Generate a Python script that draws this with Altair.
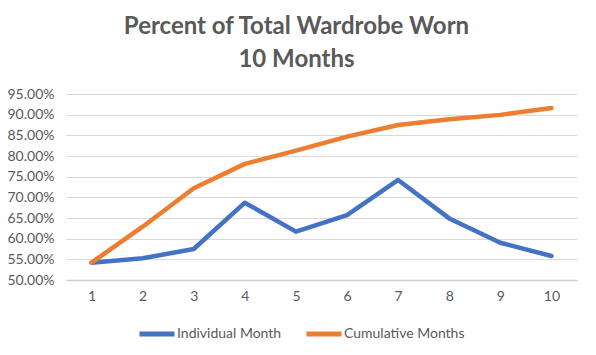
import altair as alt
import pandas as pd

months = [1, 2, 3, 4, 5, 6, 7, 8, 9, 10]
individual = [0.542, 0.5525, 0.575, 0.687, 0.617, 0.657, 0.742, 0.649, 0.590, 0.558]
cumulative = [0.542, 0.629, 0.722, 0.781, 0.813, 0.847, 0.875, 0.889, 0.8995, 0.916]
series_names = ["Individual Month", "Cumulative Months"]
colors = ["#4472C4", "#ED7D31"]
y_ticks = [0.50, 0.55, 0.60, 0.65, 0.70, 0.75, 0.80, 0.85, 0.90, 0.95]

rows = []
for m, v in zip(months, individual):
    rows.append({"Month": m, "Value": v, "Series": series_names[0]})
for m, v in zip(months, cumulative):
    rows.append({"Month": m, "Value": v, "Series": series_names[1]})
df = pd.DataFrame(rows)

FONT = "Lato"
GRAY = "#595959"

chart = alt.Chart(df).mark_line(strokeWidth=4.5, strokeCap="round", strokeJoin="round").encode(
    x=alt.X("Month:O", title=None,
            axis=alt.Axis(labelAngle=0, ticks=False, domainColor="#d0d0d0", domainWidth=1.5,
                          labelColor=GRAY, labelFont=FONT, labelFontSize=14, labelPadding=9,
                          grid=False)),
    y=alt.Y("Value:Q", title=None,
            scale=alt.Scale(domain=[0.50, 0.95], nice=False, zero=False),
            axis=alt.Axis(values=y_ticks, format=".2%", ticks=False, domain=False,
                          gridColor="#d9d9d9", gridWidth=1,
                          labelColor=GRAY, labelFont=FONT, labelFontSize=14, labelPadding=12)),
    color=alt.Color("Series:N", title=None,
                    scale=alt.Scale(domain=series_names, range=colors),
                    legend=alt.Legend(orient="none", legendX=71, legendY=220, direction="horizontal",
                                      symbolType="stroke", symbolSize=1225, symbolStrokeWidth=5,
                                      labelFont=FONT, labelFontSize=14, labelColor=GRAY,
                                      labelOffset=0, columnPadding=14, padding=0)),
).properties(
    width=511,
    height=186,
    title=alt.TitleParams(
        text=["Percent of Total Wardrobe Worn", "10 Months"],
        font=FONT, fontSize=24, fontWeight="bold", color=GRAY,
        anchor="middle", dx=-25, offset=15, lineHeight=33,
    ),
    autosize=alt.AutoSizeParams(type="none"),
    padding={"left": 66, "right": 19, "top": 94, "bottom": 75},
).configure_view(stroke=None)

chart.save("out.html", embed_options={"renderer": "svg", "actions": False})
